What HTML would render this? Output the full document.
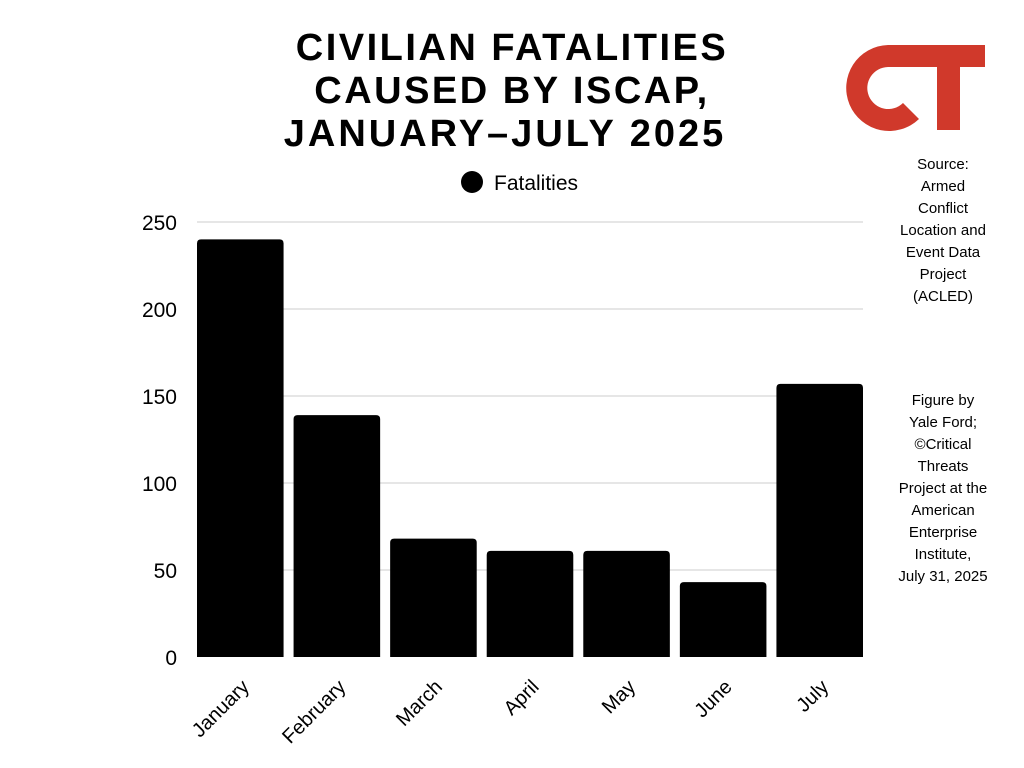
<!DOCTYPE html>
<html><head><meta charset="utf-8"><style>
body{margin:0;background:#fff;width:1024px;height:768px;overflow:hidden;font-family:"Liberation Sans",sans-serif}
</style></head><body>
<svg width="1024" height="768" id="c" style="position:absolute;left:0;top:0">
<g font-weight="bold" font-size="38" text-anchor="middle" fill="#000" letter-spacing="2.5">
<text x="512" y="60">CIVILIAN FATALITIES</text>
<text x="512" y="103">CAUSED BY ISCAP,</text>
<text x="505" y="146" letter-spacing="3">JANUARY–JULY 2025</text>
</g>
<g>
<circle cx="472" cy="182" r="11" fill="#000"/>
<text x="494" y="190" font-size="21" fill="#000">Fatalities</text>
</g>
<g fill="#D0392B">
<path d="M888,45 L985,45 L985,67 L888,67 A21,21 0 1 0 903,103 L919,119 A43,43 0 1 1 888,45 Z"/>
<rect x="937" y="45" width="23" height="85"/>
</g>
<g font-size="15" text-anchor="middle" fill="#000">
<text x="943" y="169">Source:</text><text x="943" y="191">Armed</text><text x="943" y="213">Conflict</text><text x="943" y="235">Location and</text><text x="943" y="257">Event Data</text><text x="943" y="279">Project</text><text x="943" y="301">(ACLED)</text>
</g>
<g font-size="15" text-anchor="middle" fill="#000">
<text x="943" y="405">Figure by</text><text x="943" y="427">Yale Ford;</text><text x="943" y="449">©Critical</text><text x="943" y="471">Threats</text><text x="943" y="493">Project at the</text><text x="943" y="515">American</text><text x="943" y="537">Enterprise</text><text x="943" y="559">Institute,</text><text x="943" y="581">July 31, 2025</text>
</g>
<g id="grid"></g><g id="bars"></g><g id="ylab"></g><g id="xlab"></g>
</svg>
<script>
const categories=["January","February","March","April","May","June","July"];
const values=[240,139,68,61,61,43,157];
const yTicks=[0,50,100,150,200,250];
const X0=197,X1=863,Y0=657,Y1=222,YMAX=250,GAP=10;
const y=v=>Y0-(v/YMAX)*(Y0-Y1);
const n=categories.length;
const w=(X1-X0-GAP*(n-1))/n;
const ns="http://www.w3.org/2000/svg";
function mk(t,a,p){const e=document.createElementNS(ns,t);for(const k in a)e.setAttribute(k,a[k]);document.getElementById(p).appendChild(e);return e;}
yTicks.forEach(t=>{
 if(t>0){const l=mk('line',{x1:X0,x2:X1,y1:y(t),y2:y(t),stroke:'#ccc','stroke-width':1},'grid');
 
 }
 const tx=mk('text',{x:177,y:y(t)+8,'text-anchor':'end','font-size':21,fill:'#000'},'ylab');tx.textContent=t;
 
 
});
categories.forEach((c,i)=>{
 const x=X0+i*(w+GAP);
 const top=y(values[i]),r=4;
 const p=mk('path',{d:`M${x},${Y0} V${top+r} Q${x},${top} ${x+r},${top} H${x+w-r} Q${x+w},${top} ${x+w},${top+r} V${Y0} Z`,fill:'#000'},'bars');
 
 
 const cx=x+w/2+10;
 const t=mk('text',{x:cx,y:688,'text-anchor':'end','font-size':20,fill:'#000',transform:`rotate(-45 ${cx} 688)`},'xlab');t.textContent=c;
 
 
});
</script>
</body></html>
